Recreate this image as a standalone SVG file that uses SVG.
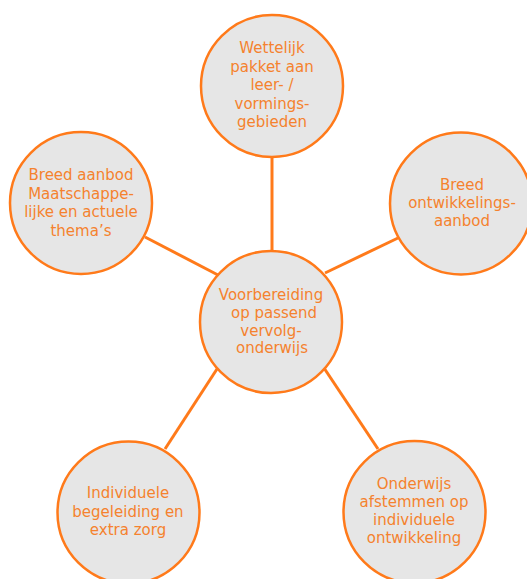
<svg xmlns="http://www.w3.org/2000/svg" width="527" height="579" viewBox="0 0 527 579">
<style>
.node circle{fill:#E6E6E6;stroke:#FF7A1A;stroke-width:2.5}
.node text{font-family:"DejaVu Sans","Verdana",sans-serif;font-size:15px;fill:#F5822E;text-anchor:middle}
.conn line{stroke:#FF7A1A;stroke-width:3}
</style>
<rect width="527" height="579" fill="#FFFFFF"/>
<g id="connectors" class="conn">
<line x1="272" y1="156" x2="272" y2="252"/>
<line x1="145" y1="237" x2="218" y2="275"/>
<line x1="398" y1="238" x2="325" y2="273"/>
<line x1="217" y1="369" x2="165" y2="449"/>
<line x1="324" y1="368" x2="378" y2="449"/>
</g>
<g id="top" class="node">
<circle cx="272" cy="86" r="71"/>
<text x="272" y="53">Wettelijk</text>
<text x="272" y="71.5">pakket aan</text>
<text x="272" y="90">leer- /</text>
<text x="272" y="108.5">vormings-</text>
<text x="272" y="127">gebieden</text>
</g>
<g id="left" class="node">
<circle cx="81" cy="203" r="71"/>
<text x="81" y="180">Breed aanbod</text>
<text x="81" y="198.5">Maatschappe-</text>
<text x="81" y="217">lijke en actuele</text>
<text x="81" y="235.5">thema’s</text>
</g>
<g id="right" class="node">
<circle cx="461" cy="203.5" r="71"/>
<text x="462" y="190">Breed</text>
<text x="462" y="208">ontwikkelings-</text>
<text x="462" y="226">aanbod</text>
</g>
<g id="center" class="node">
<circle cx="271" cy="322" r="71"/>
<text x="271" y="300">Voorbereiding</text>
<text x="274" y="318">op passend</text>
<text x="271" y="336">vervolg-</text>
<text x="272" y="353">onderwijs</text>
</g>
<g id="bottomleft" class="node">
<circle cx="128.5" cy="512.5" r="71"/>
<text x="128" y="498">Individuele</text>
<text x="128" y="516.5">begeleiding en</text>
<text x="128" y="535">extra zorg</text>
</g>
<g id="bottomright" class="node">
<circle cx="414.5" cy="512" r="71"/>
<text x="414" y="489">Onderwijs</text>
<text x="414" y="507">afstemmen op</text>
<text x="414" y="525">individuele</text>
<text x="414" y="543">ontwikkeling</text>
</g>
</svg>
